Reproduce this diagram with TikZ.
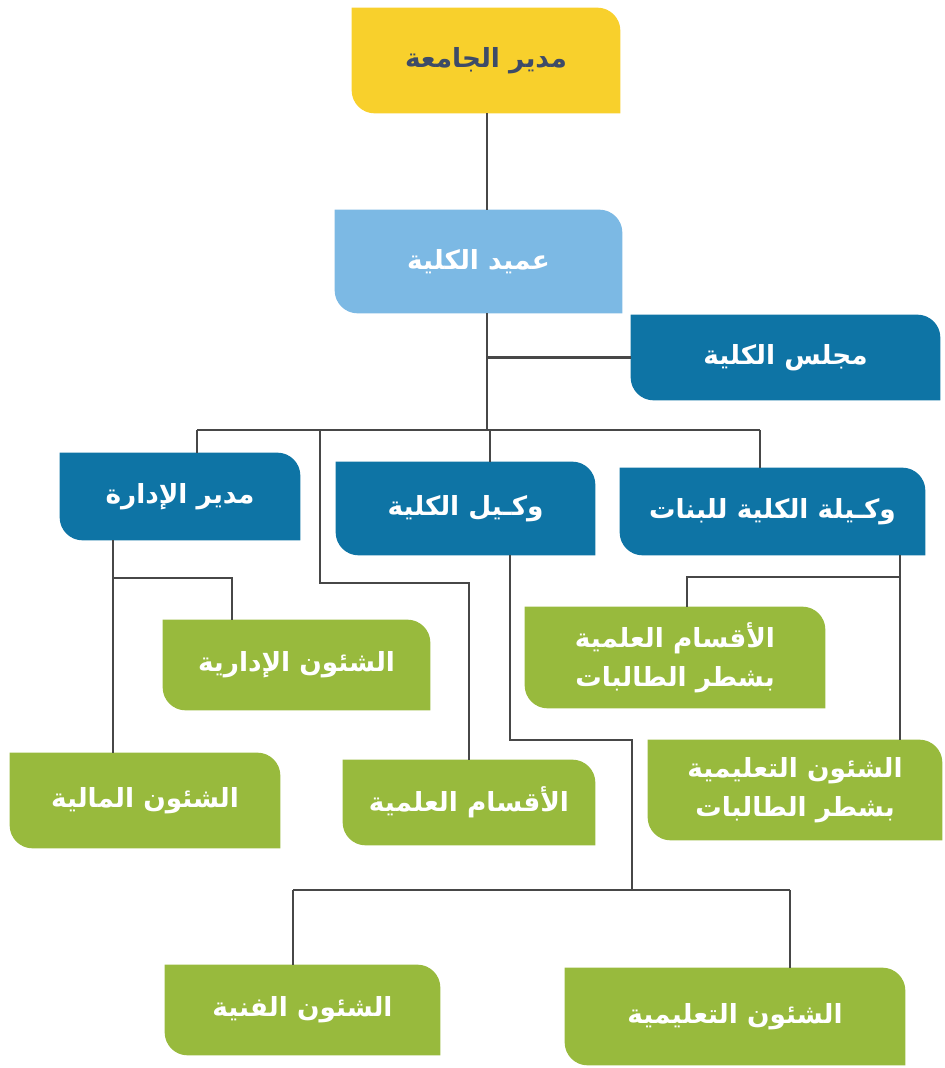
\documentclass[tikz,border=0pt]{standalone}
\usepackage{fontspec}
\newfontfamily\arabicfont[Script=Arabic]{DejaVu Sans}
\TeXXeTstate=1
\usetikzlibrary{backgrounds}
\definecolor{uniyellow}{HTML}{F8D02C}
\definecolor{deanblue}{HTML}{7CB9E4}
\definecolor{unitblue}{HTML}{0E74A5}
\definecolor{leafgreen}{HTML}{98BA3D}
\definecolor{inkslate}{HTML}{3D4B68}
\definecolor{linkgray}{HTML}{474747}
\newlength{\cardr}
\setlength{\cardr}{0.46cm}
% fill behind a card: rounded top right and bottom left corners
\newcommand{\cardfill}[2]{%
  \fill[#2] (#1.north west) -- ([xshift=-\cardr]#1.north east)
    arc[start angle=90, end angle=0, radius=\cardr] -- (#1.south east)
    -- ([xshift=\cardr]#1.south west)
    arc[start angle=270, end angle=180, radius=\cardr] -- cycle;}
\tikzset{
  card/.style={rectangle, inner sep=0pt, align=center, text=white,
    font=\arabicfont\bfseries\fontsize{15}{22}\selectfont},
  wh/.style 2 args={minimum width=#1*0.02cm, minimum height=#2*0.02cm},
  link/.style={draw=linkgray, line width=1.2pt}
}

\begin{document}
\begin{tikzpicture}[x=0.02cm, y=-0.02cm]
  \useasboundingbox (0,0) rectangle (944,1068);
  % cards
  \node[card, wh={268}{105}, text=inkslate] (uni) at (486,60.5) {\beginR مدير الجامعة\endR};
  \node[card, wh={287}{103}] (dean) at (478.5,261.5) {\beginR عميد الكلية\endR};
  \node[card, wh={309}{85}] (council) at (785.5,357.5) {\beginR مجلس الكلية\endR};
  \node[card, wh={240}{87}] (admin) at (180,496.5) {\beginR مدير الإدارة\endR};
  \node[card, wh={259}{93}] (vdean) at (465.5,508.5) {\beginR وكـيل الكلية\endR};
  \node[card, wh={305}{87}] (vdeanf) at (772.5,511.5) {\beginR وكـيلة الكلية للبنات\endR};
  \node[card, wh={267}{90}] (admaff) at (296.5,665) {\beginR الشئون الإدارية\endR};
  \node[card, wh={300}{101}] (fdept) at (675,657.5) {\beginR الأقسام العلمية\endR\\\beginR بشطر الطالبات\endR};
  \node[card, wh={270}{95}] (finance) at (145,800.5) {\beginR الشئون المالية\endR};
  \node[card, wh={252}{85}] (depts) at (469,802.5) {\beginR الأقسام العلمية\endR};
  \node[card, wh={294}{100}] (fedu) at (795,790) {\beginR الشئون التعليمية\endR\\\beginR بشطر الطالبات\endR};
  \node[card, wh={275}{90}] (tech) at (302.5,1010) {\beginR الشئون الفنية\endR};
  \node[card, wh={340}{97}] (edu) at (735,1016.5) {\beginR الشئون التعليمية\endR};
  \begin{scope}[on background layer]
    \cardfill{uni}{uniyellow}
    \cardfill{dean}{deanblue}
    \foreach \n in {council,admin,vdean,vdeanf}
      {\cardfill{\n}{unitblue}}
    \foreach \n in {admaff,fdept,finance,depts,fedu,tech,edu}
      {\cardfill{\n}{leafgreen}}
  \end{scope}
  % junctions
  \coordinate (trunk) at (487,430);
  \coordinate (busL) at (197,430);
  \coordinate (busR) at (760,430);
  \coordinate (vdDrop) at (490,430);
  \coordinate (dpA) at (320,430);
  \coordinate (dpB) at (320,583);
  \coordinate (adJ) at (113,578);
  \coordinate (adK) at (232,578);
  \coordinate (vdJ) at (510,740);
  \coordinate (vdK) at (632,740);
  \coordinate (vdL) at (632,890);
  \coordinate (lowL) at (293,890);
  \coordinate (lowR) at (790,890);
  \coordinate (vfJ) at (900,577);
  \coordinate (vfK) at (687,577);
  % connectors
  \draw[link] (uni.south -| trunk) -- (trunk |- dean.north);
  \draw[link] (dean.south -| trunk) -- (trunk);
  \draw[link] (council.west) -- (council.west -| trunk);
  \draw[link] (busL) -- (busR);
  \draw[link] (busL) -- (busL |- admin.north);
  \draw[link] (vdDrop) -- (vdDrop |- vdean.north);
  \draw[link] (busR) -- (busR |- vdeanf.north);
  \draw[link] (dpA) -- (dpB) -| (depts.north);
  \draw[link] (admin.south -| adJ) -- (adJ |- finance.north);
  \draw[link] (adJ) -- (adK) -- (adK |- admaff.north);
  \draw[link] (vdean.south -| vdJ) -- (vdJ) -- (vdK) -- (vdL);
  \draw[link] (lowL) -- (lowR);
  \draw[link] (lowL) -- (lowL |- tech.north);
  \draw[link] (lowR) -- (lowR |- edu.north);
  \draw[link] (vdeanf.south -| vfJ) -- (vfJ |- fedu.north);
  \draw[link] (vfJ) -- (vfK) -- (vfK |- fdept.north);
\end{tikzpicture}
\end{document}
